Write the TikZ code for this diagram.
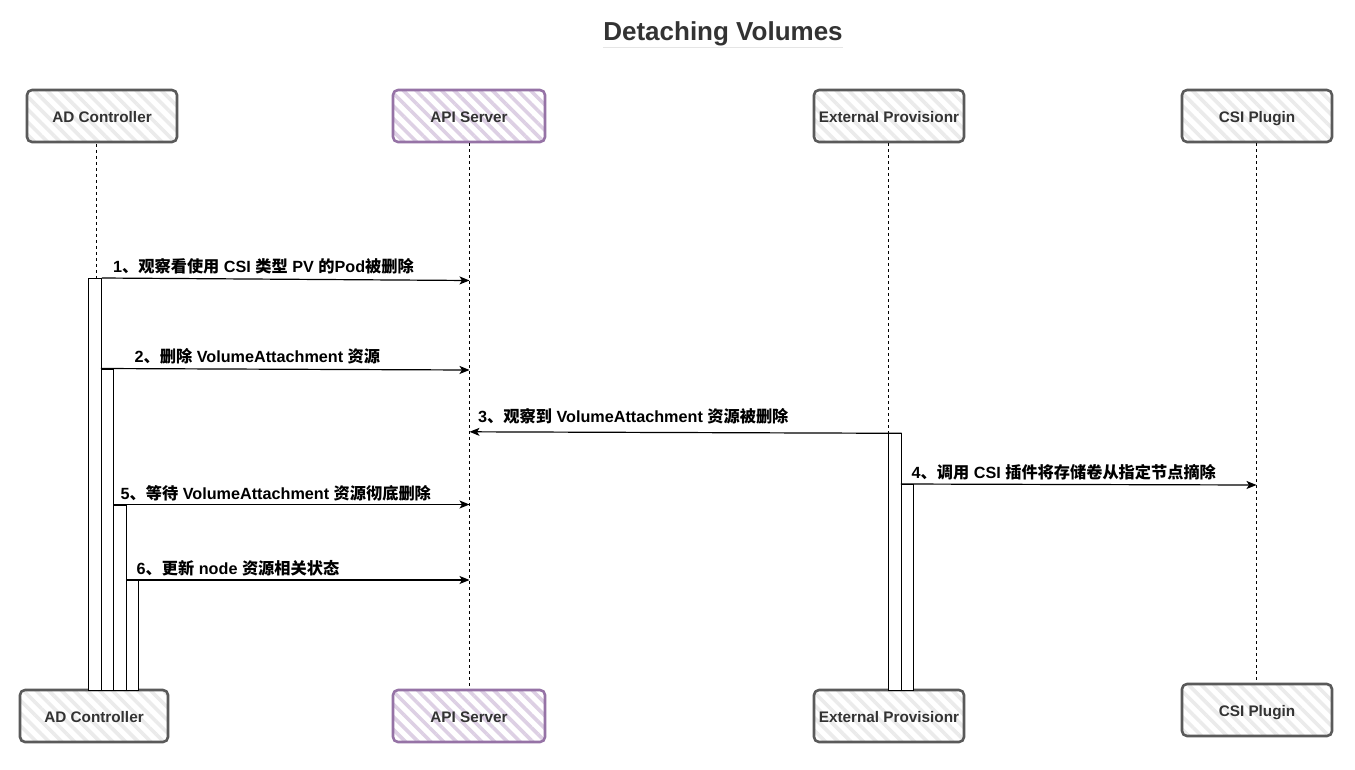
\documentclass[tikz,border=0pt]{standalone}
\usepackage{fontspec}
\setmainfont{Liberation Sans}
\newfontfamily\cjk{Noto Sans CJK SC}
\usetikzlibrary{patterns.meta,arrows.meta}
\definecolor{boxgray}{HTML}{5A5A5A}
\definecolor{hatchgray}{HTML}{EBEBEB}
\definecolor{purpstroke}{HTML}{9673A6}
\definecolor{purphatch}{HTML}{DDD0E4}
\definecolor{textgray}{HTML}{333333}
\newcommand{\zh}[1]{{\cjk #1}}
\tikzset{
  actor/.style={draw=boxgray, line width=2.6pt, rounded corners=5pt, line join=round,
    pattern={Lines[angle=-45,distance=9pt,line width=3.6pt]}, pattern color=hatchgray,
    minimum width=150pt, minimum height=52pt, inner sep=0pt, text height=14pt, text depth=0.5pt,
    font=\fontsize{15.3}{18}\selectfont\bfseries, text=textgray},
  purpactor/.style={actor, draw=purpstroke, pattern color=purphatch},
  life/.style={draw=black, line width=0.9pt, dash pattern=on 3pt off 3pt},
  actbar/.style={draw=black, fill=white, line width=0.9pt, minimum width=12.5pt, inner sep=0pt, anchor=north west},
  msg/.style={draw=black, line width=1.2pt, -{Stealth[length=10pt,width=8pt,inset=2.5pt]}},
  msglabel/.style={anchor=west, inner sep=0pt, font=\fontsize{16.2}{19}\selectfont\bfseries, text=black}
}
\begin{document}
\begin{tikzpicture}[x=1pt,y=-1pt]
\useasboundingbox[fill=white] (0,0) rectangle (1355,769);

% title
\node[inner sep=0pt, text height=19pt, text depth=6pt, font=\fontsize{26}{30}\selectfont\bfseries, text=textgray] (title) at (723,34) {Detaching Volumes};
\draw[draw=black!10, line width=0.8pt] ([yshift=-1pt]title.south west) -- ([yshift=-1pt]title.south east);

% actor boxes (top)
\node[actor] (adT) at (102,116) {AD Controller};
\node[purpactor, minimum width=152pt] (apiT) at (469,116) {API Server};
\node[actor] (epT) at (889,116) {External Provisionr};
\node[actor] (csiT) at (1257,116) {CSI Plugin};

% actor boxes (bottom)
\node[actor, minimum width=148pt] (adB) at (94,716) {AD Controller};
\node[purpactor, minimum width=152pt] (apiB) at (469,716) {API Server};
\node[actor] (epB) at (889,716) {External Provisionr};
\node[actor] (csiB) at (1257,710) {CSI Plugin};

% lifeline x positions
\coordinate (adx) at (96,0);
\coordinate (apix) at (469,0);
\coordinate (epx) at (888.5,0);
\coordinate (csix) at (1256.5,0);

\draw[life] (adT.south -| adx) -- (adB.north -| adx);
\draw[life] (apiT.south -| apix) -- (apiB.north -| apix);
\draw[life] (epT.south -| epx) -- (epB.north -| epx);
\draw[life] (csiT.south -| csix) -- (csiB.north -| csix);

% activation bars
\node[actbar, minimum height=412pt] (b1) at (88.4,278) {};
\node[actbar, minimum height=321.5pt] (b2) at (100.9,368.5) {};
\node[actbar, minimum height=185.5pt] (b3) at (113.4,504.5) {};
\node[actbar, minimum height=110pt] (b4) at (125.9,580) {};
\node[actbar, minimum height=256.7pt] (e1) at (888.3,433.3) {};
\node[actbar, minimum height=206pt] (e2) at (900.8,484) {};

% message end points
\coordinate (m1e) at (469.5,280.5);
\coordinate (m2e) at (469.5,370);
\coordinate (m3e) at (469.5,431.8);
\coordinate (m4e) at (1256.5,485);
\coordinate (m5e) at (469.5,504.5);
\coordinate (m6e) at (469.5,580);

\draw[msg] (b1.north east) -- (m1e);
\draw[msg] (b2.north west) -- (m2e);
\draw[msg] (e1.north east) -- (m3e);
\draw[msg] (e2.north west) -- (m4e);
\draw[msg] (b3.north west) -- (m5e);
\draw[msg] (b4.north west) -- (m6e);

% message labels
\node[msglabel] (l1) at (113,266.5) {1\zh{、观察看使用} CSI \zh{类型} PV \zh{的}Pod\zh{被删除}};
\node[msglabel] (l2) at (134.5,356) {2\zh{、删除} VolumeAttachment \zh{资源}};
\node[msglabel] (l3) at (478,416.5) {3\zh{、观察到} VolumeAttachment \zh{资源被删除}};
\node[msglabel] (l4) at (911.5,472) {4\zh{、调用} CSI \zh{插件将存储卷从指定节点摘除}};
\node[msglabel] (l5) at (120.5,493) {5\zh{、等待} VolumeAttachment \zh{资源彻底删除}};
\node[msglabel] (l6) at (136.5,568) {6\zh{、更新} node \zh{资源相关状态}};
\end{tikzpicture}
\end{document}
